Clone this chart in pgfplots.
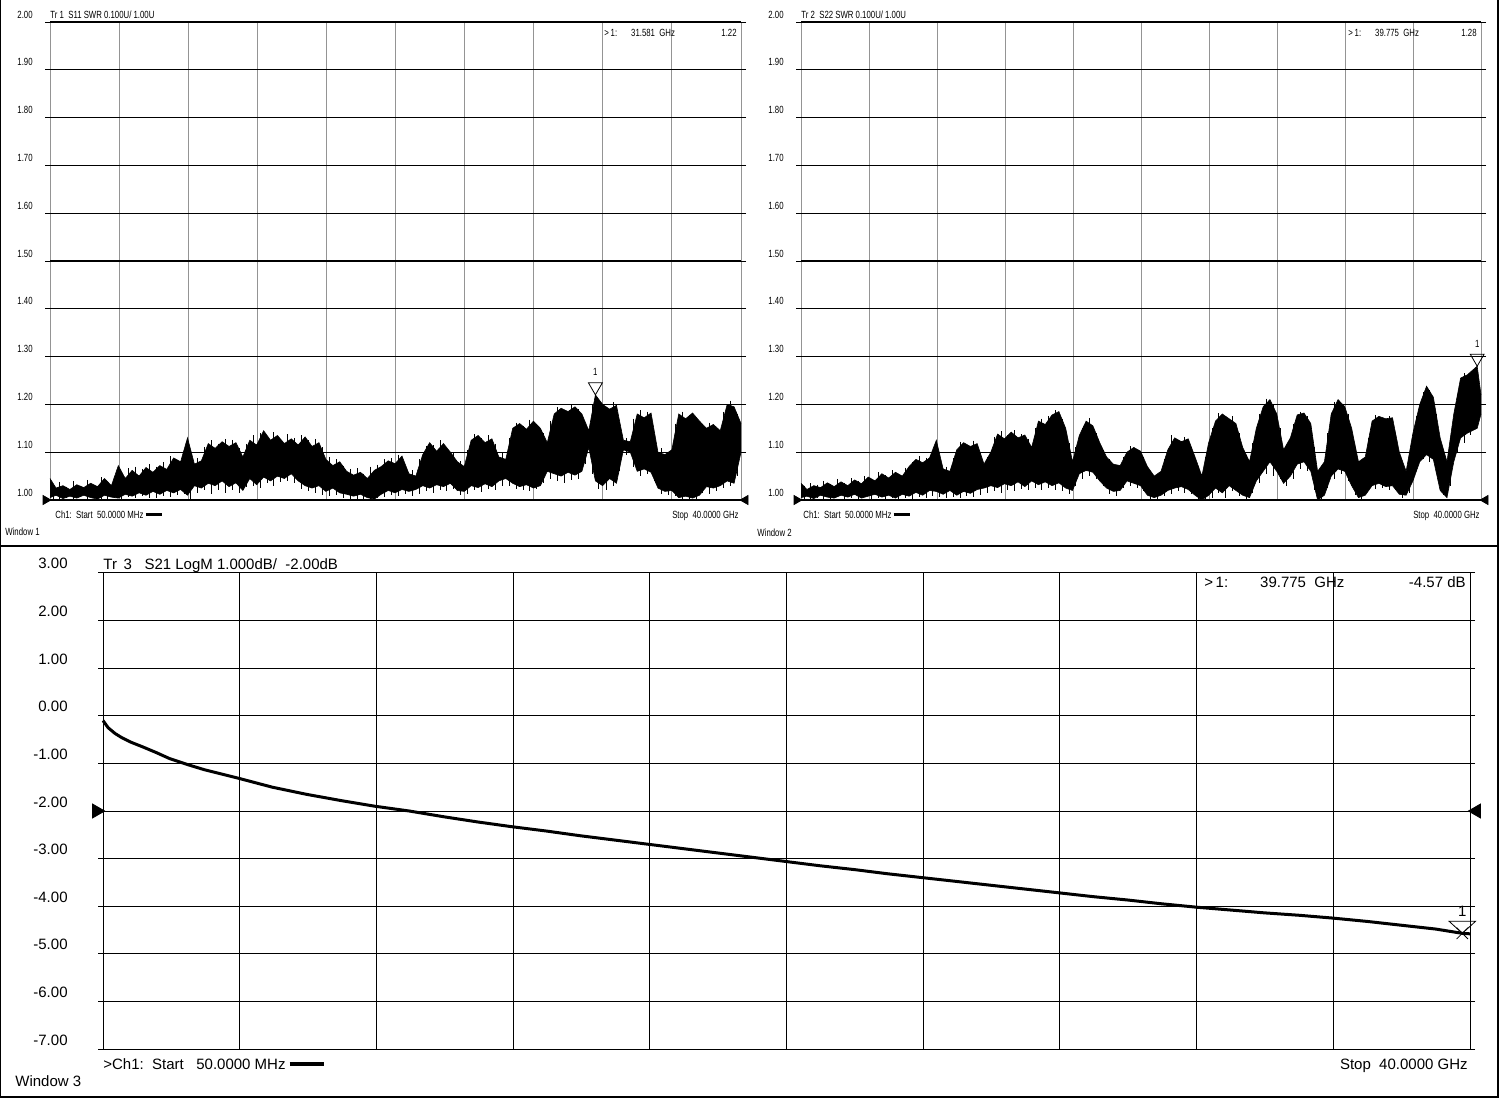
\documentclass[border=0pt]{standalone}
\usepackage{pgfplots}
\pgfplotsset{compat=1.18}
\usepackage{pgfplotstable}
\usepgfplotslibrary{fillbetween}
\usepackage{fontspec}
\setmainfont{Liberation Sans}
\newfontfamily\narrow[FakeStretch=0.75]{Liberation Sans}
\newcommand\tf{\narrow\fontsize{5.2}{6}\selectfont}
\newcommand\bff{\fontsize{7.5}{9}\selectfont}

% S11: envelope (hi, lo) and spikes (st, sb) drawn at f+0.2
\pgfplotstableread{
f hi lo st sb
0.05 1.045 1.005 1.030 1.002
0.4 1.025 1.010 1.038 1.001
0.8 1.030 1.003 1.028 1.004
1.2 1.022 1.008 1.040 1.002
1.6 1.032 1.004 1.030 1.006
2.0 1.026 1.010 1.042 1.001
2.4 1.035 1.005 1.032 1.004
2.8 1.028 1.002 1.048 1.003
3.2 1.045 1.010 1.036 1.002
3.6 1.030 1.006 1.040 1.004
4.0 1.072 1.004 1.058 1.002
4.4 1.045 1.012 1.066 1.006
4.8 1.062 1.008 1.070 1.004
5.2 1.050 1.015 1.064 1.008
5.6 1.068 1.010 1.075 1.005
6.0 1.058 1.018 1.070 1.004
6.4 1.072 1.012 1.080 1.008
6.8 1.064 1.020 1.092 1.006
7.2 1.088 1.015 1.082 1.010
7.6 1.080 1.022 1.098 1.012
8.0 1.130 1.010 1.090 1.003
8.4 1.075 1.030 1.088 1.015
8.8 1.082 1.025 1.110 1.020
9.2 1.118 1.035 1.125 1.012
9.6 1.108 1.030 1.118 1.020
10.0 1.122 1.040 1.128 1.015
10.4 1.112 1.028 1.126 1.020
10.8 1.120 1.036 1.108 1.014
11.2 1.090 1.020 1.118 1.028
11.6 1.125 1.045 1.135 1.030
12.0 1.115 1.032 1.140 1.025
12.4 1.145 1.048 1.132 1.035
12.8 1.125 1.040 1.142 1.030
13.2 1.135 1.050 1.128 1.038
13.6 1.118 1.045 1.138 1.040
14.0 1.128 1.055 1.130 1.035
14.4 1.115 1.040 1.135 1.022
14.8 1.132 1.030 1.125 1.018
15.2 1.112 1.025 1.128 1.015
15.6 1.120 1.030 1.110 1.010
16.0 1.085 1.018 1.090 1.008
16.4 1.072 1.025 1.085 1.010
16.8 1.080 1.015 1.072 1.004
17.2 1.060 1.012 1.065 1.002
17.6 1.052 1.008 1.066 1.003
18.0 1.058 1.012 1.055 1.000
18.4 1.045 1.005 1.070 1.002
18.8 1.062 1.002 1.074 1.004
19.2 1.070 1.012 1.085 1.006
19.6 1.082 1.020 1.088 1.010
20.0 1.076 1.015 1.095 1.008
20.4 1.092 1.022 1.070 1.012
20.8 1.055 1.018 1.062 1.008
21.2 1.050 1.022 1.085 1.012
21.6 1.095 1.030 1.112 1.018
22.0 1.120 1.025 1.115 1.015
22.4 1.102 1.032 1.125 1.020
22.8 1.118 1.028 1.108 1.018
23.2 1.100 1.035 1.100 1.022
23.6 1.080 1.020 1.082 1.010
24.0 1.070 1.018 1.105 1.012
24.4 1.125 1.030 1.138 1.020
24.8 1.135 1.026 1.130 1.016
25.2 1.120 1.034 1.135 1.022
25.6 1.128 1.028 1.118 1.020
26.0 1.090 1.040 1.100 1.030
26.4 1.085 1.045 1.130 1.030
26.8 1.150 1.035 1.162 1.022
27.2 1.160 1.028 1.155 1.020
27.6 1.148 1.032 1.168 1.018
28.0 1.165 1.025 1.158 1.022
28.4 1.150 1.030 1.140 1.035
28.8 1.120 1.060 1.165 1.045
29.2 1.180 1.055 1.195 1.040
29.6 1.192 1.050 1.188 1.035
30.0 1.185 1.058 1.198 1.042
30.4 1.195 1.052 1.190 1.045
30.8 1.180 1.060 1.160 1.075
31.2 1.145 1.110 1.200 1.055
31.581 1.220 1.040 1.205 1.022
32.0 1.200 1.030 1.195 1.020
32.4 1.190 1.045 1.205 1.030
32.8 1.198 1.035 1.150 1.060
33.2 1.125 1.105 1.130 1.095
33.6 1.122 1.100 1.170 1.070
34.0 1.180 1.060 1.188 1.050
34.4 1.172 1.065 1.185 1.055
34.8 1.182 1.058 1.120 1.040
35.2 1.100 1.025 1.108 1.012
35.6 1.095 1.018 1.100 1.010
36.0 1.105 1.020 1.160 1.008
36.4 1.180 1.005 1.185 1.002
36.8 1.170 1.008 1.178 1.001
37.2 1.182 1.004 1.172 1.003
37.6 1.165 1.010 1.160 1.015
38.0 1.150 1.028 1.162 1.012
38.4 1.158 1.025 1.150 1.018
38.8 1.145 1.030 1.185 1.025
39.2 1.200 1.040 1.208 1.030
39.6 1.195 1.035 1.180 1.050
40.0 1.160 1.100 1.130 1.130
}\sone

% S22
\pgfplotstableread{
f hi lo st sb
0.05 1.035 1.005 1.030 1.002
0.4 1.022 1.008 1.035 1.001
0.8 1.030 1.003 1.032 1.004
1.2 1.026 1.010 1.040 1.002
1.6 1.036 1.006 1.034 1.003
2.0 1.028 1.004 1.044 1.006
2.4 1.038 1.010 1.036 1.001
2.8 1.030 1.006 1.046 1.004
3.2 1.042 1.012 1.040 1.003
3.6 1.034 1.004 1.050 1.006
4.0 1.048 1.008 1.045 1.002
4.4 1.040 1.012 1.058 1.004
4.8 1.055 1.006 1.052 1.001
5.2 1.046 1.010 1.062 1.005
5.6 1.058 1.004 1.055 1.002
6.0 1.050 1.012 1.068 1.004
6.4 1.070 1.008 1.080 1.003
6.8 1.085 1.016 1.092 1.006
7.2 1.078 1.010 1.088 1.004
7.6 1.088 1.020 1.098 1.008
8.0 1.125 1.018 1.080 1.006
8.4 1.065 1.012 1.070 1.004
8.8 1.060 1.020 1.088 1.006
9.2 1.105 1.010 1.122 1.004
9.6 1.120 1.018 1.116 1.008
10.0 1.112 1.014 1.124 1.006
10.4 1.118 1.022 1.100 1.010
10.8 1.075 1.025 1.090 1.015
11.2 1.100 1.030 1.132 1.018
11.6 1.138 1.026 1.144 1.015
12.0 1.128 1.034 1.135 1.020
12.4 1.142 1.030 1.146 1.018
12.8 1.130 1.038 1.138 1.022
13.2 1.136 1.028 1.128 1.020
13.6 1.110 1.040 1.150 1.025
14.0 1.165 1.032 1.170 1.020
14.4 1.158 1.038 1.175 1.025
14.8 1.178 1.030 1.188 1.020
15.2 1.185 1.036 1.170 1.018
15.6 1.150 1.025 1.120 1.012
16.0 1.080 1.020 1.110 1.030
16.4 1.135 1.055 1.150 1.045
16.8 1.165 1.062 1.172 1.050
17.2 1.155 1.058 1.140 1.045
17.6 1.120 1.040 1.105 1.030
18.0 1.090 1.025 1.085 1.012
18.4 1.075 1.018 1.070 1.008
18.8 1.072 1.020 1.090 1.025
19.2 1.100 1.040 1.112 1.030
19.6 1.110 1.035 1.105 1.025
20.0 1.102 1.030 1.090 1.018
20.4 1.070 1.010 1.060 1.002
20.8 1.050 1.005 1.055 1.003
21.2 1.060 1.010 1.085 1.008
21.6 1.105 1.020 1.135 1.012
22.0 1.130 1.025 1.125 1.018
22.4 1.122 1.028 1.132 1.015
22.8 1.128 1.022 1.110 1.012
23.2 1.090 1.010 1.070 1.001
23.6 1.050 1.000 1.090 1.002
24.0 1.120 1.010 1.150 1.004
24.4 1.165 1.025 1.182 1.015
24.8 1.180 1.015 1.175 1.005
25.2 1.170 1.030 1.175 1.018
25.6 1.160 1.020 1.140 1.008
26.0 1.110 1.010 1.095 1.002
26.4 1.080 1.005 1.120 1.015
26.8 1.150 1.040 1.180 1.035
27.2 1.195 1.060 1.212 1.055
27.6 1.210 1.080 1.200 1.050
28.0 1.180 1.060 1.150 1.045
28.4 1.105 1.035 1.115 1.030
28.8 1.130 1.050 1.160 1.045
29.2 1.178 1.075 1.185 1.065
29.6 1.182 1.080 1.175 1.060
30.0 1.160 1.060 1.110 1.020
30.4 1.060 1.000 1.050 1.002
30.8 1.080 1.010 1.140 1.025
31.2 1.180 1.050 1.205 1.045
31.6 1.210 1.065 1.200 1.055
32.0 1.195 1.060 1.180 1.040
32.4 1.150 1.030 1.110 1.010
32.8 1.080 1.005 1.070 1.001
33.2 1.090 1.010 1.130 1.020
33.6 1.165 1.030 1.178 1.022
34.0 1.175 1.035 1.172 1.025
34.4 1.170 1.028 1.176 1.020
34.8 1.172 1.030 1.140 1.020
35.2 1.100 1.012 1.080 1.004
35.6 1.060 1.010 1.100 1.015
36.0 1.140 1.040 1.175 1.060
36.4 1.200 1.080 1.225 1.085
36.8 1.238 1.095 1.230 1.080
37.2 1.215 1.085 1.180 1.060
37.6 1.130 1.020 1.100 1.010
38.0 1.080 1.005 1.130 1.030
38.4 1.180 1.080 1.220 1.100
38.8 1.255 1.130 1.265 1.120
39.2 1.262 1.140 1.255 1.135
39.775 1.280 1.150 1.220 1.180
40.0 1.220 1.180 1.200 1.200
}\stwo

% S21
\pgfplotstableread{
f s
0.05 -0.10
0.2 -0.25
0.4 -0.37
0.6 -0.46
0.85 -0.55
1.2 -0.65
1.6 -0.77
2.0 -0.90
2.5 -1.02
3.0 -1.13
3.5 -1.22
4.0 -1.31
5.0 -1.50
6.0 -1.65
7.0 -1.78
8.0 -1.90
9.0 -2.00
10.0 -2.12
11.0 -2.23
12.0 -2.33
13.0 -2.42
14.0 -2.52
15.0 -2.61
16.0 -2.70
17.0 -2.79
18.0 -2.88
19.0 -2.97
20.0 -3.06
21.0 -3.15
22.0 -3.23
23.0 -3.32
24.0 -3.40
25.0 -3.48
26.0 -3.56
27.0 -3.64
28.0 -3.72
29.0 -3.80
30.0 -3.87
31.0 -3.95
32.0 -4.02
33.0 -4.08
34.0 -4.14
35.0 -4.19
36.0 -4.25
37.0 -4.32
38.0 -4.40
39.0 -4.48
39.775 -4.57
40.0 -4.58
}\sthree

\pgfplotsset{
  common/.style={
    scale only axis, clip=false,
    xmin=0.05, xmax=40,
    xtick={0.05,4.045,8.04,12.035,16.03,20.025,24.02,28.015,32.01,36.005,40},
    xticklabels={},
    grid=major,
    tick align=outside, major tick length=2.5pt,
    xtick style={draw=none},
    ytick style={draw=black, line width=0.5pt},
  },
  swr/.style={
    common,
    width=#1, height=239pt,
    ymin=1, ymax=2,
    axis line style={draw=none},
    ytick={1.0,1.1,1.2,1.3,1.4,1.5,1.6,1.7,1.8,1.9,2.0},
    yticklabels={1.00,1.10,1.20,1.30,1.40,1.50,1.60,1.70,1.80,1.90,2.00},
    major x grid style={draw=black!42, line width=0.5pt},
    major y grid style={draw=black, line width=0.6pt},
    yticklabel style={font=\tf, anchor=base east, inner sep=0pt, xshift=-6pt, yshift=2pt},
  },
  spikes/.style={draw=none, mark=none, forget plot,
    error bars/.cd, y dir=minus, y explicit, error mark=none,
    error bar style={draw=black, solid, line width=0.5pt}},
}

\begin{document}
\begin{tikzpicture}
\begin{scope}[x=0.5pt,y=-0.5pt]
\useasboundingbox (0,0) rectangle (1502,1098);
\draw[line width=0.6pt] (0.6,0) -- (0.6,1097) -- (1498,1097) -- (1498,0);
\draw[line width=0.6pt] (0,546) -- (1498,546);
% top-left texts
\node[font=\tf, anchor=base west, inner sep=0pt] at (50,18) {Tr 1\ \ S11 SWR 0.100U/ 1.00U};
\node[font=\tf, anchor=base west, inner sep=0pt] at (604,36) {>\,1:\hspace{7pt}31.581\ \ GHz};
\node[font=\tf, anchor=base east, inner sep=0pt] at (737,36) {1.22};
\node[font=\tf, anchor=base west, inner sep=0pt] at (55,518) {Ch1:\ \ Start\ \ 50.0000 MHz \rule[0.2em]{8pt}{1.5pt}};
\node[font=\tf, anchor=base east, inner sep=0pt] at (739,518) {Stop\ \ 40.0000 GHz};
\node[font=\tf, anchor=base west, inner sep=0pt] at (5,535) {Window 1};
% top-right texts
\node[font=\tf, anchor=base west, inner sep=0pt] at (801,18) {Tr 2\ \ S22 SWR 0.100U/ 1.00U};
\node[font=\tf, anchor=base west, inner sep=0pt] at (1348,36) {>\,1:\hspace{7pt}39.775\ \ GHz};
\node[font=\tf, anchor=base east, inner sep=0pt] at (1477,36) {1.28};
\node[font=\tf, anchor=base west, inner sep=0pt] at (803,518) {Ch1:\ \ Start\ \ 50.0000 MHz \rule[0.2em]{8pt}{1.5pt}};
\node[font=\tf, anchor=base east, inner sep=0pt] at (1480,518) {Stop\ \ 40.0000 GHz};
\node[font=\tf, anchor=base west, inner sep=0pt] at (757,536) {Window 2};
% bottom texts
\node[font=\bff, anchor=base west, inner sep=0pt] at (103,569) {Tr\ \,3\ \ \ S21 LogM 1.000dB/\ \ -2.00dB};
\node[font=\bff, anchor=base west, inner sep=0pt] at (1204,587) {>\,1:\hspace{16pt}39.775\ \ GHz};
\node[font=\bff, anchor=base east, inner sep=0pt] at (1466,587) {-4.57 dB};
\node[font=\bff, anchor=base west, inner sep=0pt] at (103,1069) {>Ch1:\ \ Start\ \ \ 50.0000 MHz \rule[0.22em]{17pt}{2pt}};
\node[font=\bff, anchor=base east, inner sep=0pt] at (1468,1069) {Stop\ \ 40.0000 GHz};
\node[font=\bff, anchor=base west, inner sep=0pt] at (15,1086) {Window 3};
\end{scope}

% ---------- Window 1 : S11 SWR ----------
\begin{axis}[swr=345.5pt, at={(25pt,-250pt)}, anchor=south west]
\addplot[name path=u1, black, line width=0.3pt] table[x=f, y=hi]{\sone};
\addplot[name path=l1, black, line width=0.3pt] table[x=f, y=lo]{\sone};
\addplot[black] fill between[of=u1 and l1];
\addplot[spikes] table[x expr=\thisrow{f}+0.2, y=st, y error minus expr=\thisrow{st}-\thisrow{sb}]{\sone};
\addplot[only marks, mark=triangle, mark size=4pt, line width=0.4pt,
  mark options={fill=white, yshift=4pt, rotate=180}] coordinates {(31.581,1.22)};
\node[font=\tf, anchor=base, inner sep=0pt] at (axis cs:31.581,1.22) [yshift=9.5pt] {1};
\addplot[only marks, mark=triangle*, mark size=2.6pt,
  mark options={xshift=-2.2pt, rotate=-90}] coordinates {(0.05,1.0)};
\addplot[only marks, mark=triangle*, mark size=2.6pt,
  mark options={xshift=2.2pt, rotate=90}] coordinates {(40,1.0)};
\end{axis}

% ---------- Window 2 : S22 SWR ----------
\begin{axis}[swr=340pt, at={(400.5pt,-250pt)}, anchor=south west]
\addplot[name path=u2, black, line width=0.3pt] table[x=f, y=hi]{\stwo};
\addplot[name path=l2, black, line width=0.3pt] table[x=f, y=lo]{\stwo};
\addplot[black] fill between[of=u2 and l2];
\addplot[spikes] table[x expr=\thisrow{f}+0.2, y=st, y error minus expr=\thisrow{st}-\thisrow{sb}]{\stwo};
\addplot[only marks, mark=triangle, mark size=4pt, line width=0.4pt,
  mark options={fill=white, yshift=4pt, rotate=180}] coordinates {(39.775,1.28)};
\node[font=\tf, anchor=base, inner sep=0pt] at (axis cs:39.775,1.28) [yshift=9.5pt] {1};
\addplot[only marks, mark=triangle*, mark size=2.6pt,
  mark options={xshift=-2.2pt, rotate=-90}] coordinates {(0.05,1.0)};
\addplot[only marks, mark=triangle*, mark size=2.6pt,
  mark options={xshift=2.2pt, rotate=90}] coordinates {(40,1.0)};
\end{axis}

% ---------- Window 3 : S21 LogM ----------
\begin{axis}[common, width=683.5pt, height=238pt, at={(51.5pt,-524.5pt)}, anchor=south west,
  ymin=-7, ymax=3,
  axis line style={black, line width=0.5pt},
  ytick={-7,-6,-5,-4,-3,-2,-1,0,1,2,3},
  yticklabels={-7.00,-6.00,-5.00,-4.00,-3.00,-2.00,-1.00,0.00,1.00,2.00,3.00},
  major grid style={draw=black, line width=0.5pt},
  yticklabel style={font=\bff, anchor=base east, inner sep=0pt, xshift=-15pt, yshift=2pt}]
\addplot[black, line width=1.5pt] table[x=f, y=s]{\sthree};
\addplot[only marks, mark=triangle, mark size=4pt, line width=0.4pt,
  mark options={yshift=4pt, rotate=180, xscale=1.9}] coordinates {(39.775,-4.57)};
\addplot[only marks, mark=x, mark size=4pt, line width=0.4pt] coordinates {(39.775,-4.57)};
\node[font=\bff, anchor=base, inner sep=0pt] at (axis cs:39.775,-4.57) [yshift=8.5pt] {1};
\addplot[only marks, mark=triangle*, mark size=4pt,
  mark options={xshift=-3.2pt, rotate=-90}] coordinates {(0.05,-2)};
\addplot[only marks, mark=triangle*, mark size=4pt,
  mark options={xshift=3.2pt, rotate=90}] coordinates {(40,-2)};
\end{axis}
\end{tikzpicture}
\end{document}
